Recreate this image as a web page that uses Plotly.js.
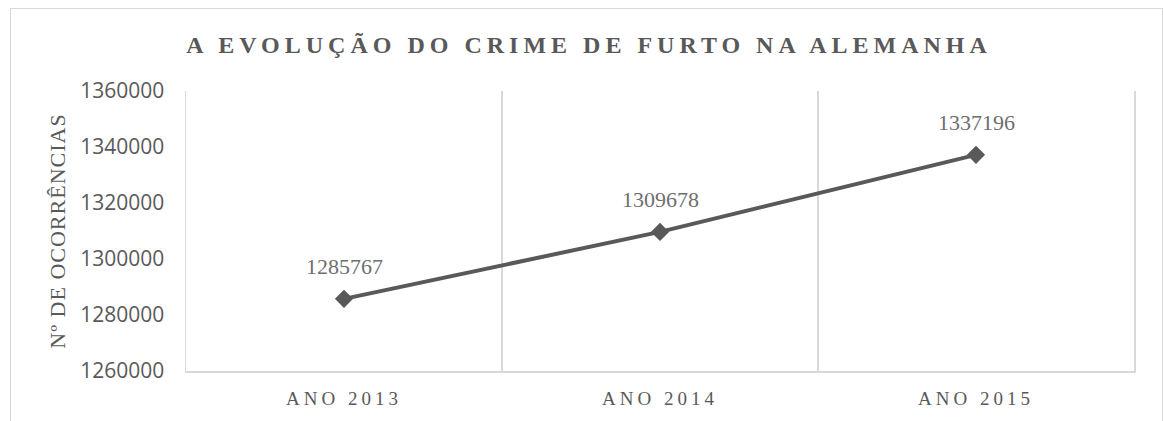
<!DOCTYPE html>
<html>
<head>
<meta charset="utf-8">
<script src="https://cdn.plot.ly/plotly-3.0.1.min.js"></script>
<style>
  html, body { margin: 0; padding: 0; background: #ffffff; }
  #wrap { position: relative; width: 1163px; height: 421px; overflow: hidden; }
  #chart { position: absolute; left: 0; top: 0; width: 1163px; height: 421px; }
  #frame { position: absolute; left: 10px; top: 8px; width: 1151px; height: 440px;
           border: 1px solid #d9d9d9; pointer-events: none; }
  .gtitle { letter-spacing: 5px; }
  .xtick text { letter-spacing: 4px; }
  .ytitle { letter-spacing: 1px; }
</style>
</head>
<body>
<div id="wrap">
  <div id="chart"></div>
  <div id="frame"></div>
</div>
<script>
const categories = ["ANO 2013", "ANO 2014", "ANO 2015"];
const occurrences = [1285767, 1309678, 1337196];
const chartTitle = "A EVOLUÇÃO DO CRIME DE FURTO NA ALEMANHA";
const yTitle = "Nº DE OCORRÊNCIAS";
const yTicks = [1260000, 1280000, 1300000, 1320000, 1340000, 1360000];

const grey = "#595959";

const trace = {
  x: categories,
  y: occurrences,
  type: "scatter",
  mode: "lines+markers",
  line: { color: grey, width: 4 },
  marker: { symbol: "diamond", size: 14, color: grey },
  hoverinfo: "skip",
  cliponaxis: false
};

const annotations = categories.map((c, i) => ({
  x: c,
  y: occurrences[i],
  xref: "x",
  yref: "y",
  text: String(occurrences[i]),
  showarrow: false,
  yshift: 32,
  font: { family: "Liberation Serif, Times New Roman, serif", size: 22, color: "#6e6e6e" }
}));

const layout = {
  width: 1163,
  height: 421,
  margin: { l: 186, r: 29, t: 91, b: 50 },
  paper_bgcolor: "rgba(0,0,0,0)",
  plot_bgcolor: "#ffffff",
  showlegend: false,
  title: {
    text: chartTitle,
    x: 589 / 1163,
    xref: "container",
    xanchor: "center",
    y: 1 - 45 / 421,
    yref: "container",
    yanchor: "middle",
    font: { family: "Liberation Serif, Times New Roman, serif", size: 24, color: grey, weight: "bold" }
  },
  xaxis: {
    type: "category",
    range: [-0.5, 2.5],
    tickson: "boundaries",
    showgrid: true,
    gridcolor: "#d9d9d9",
    gridwidth: 1.5,
    showline: true,
    linecolor: "#d9d9d9",
    linewidth: 2,
    ticks: "",
    ticklabelstandoff: 9,
    tickfont: { family: "Liberation Serif, Times New Roman, serif", size: 19, color: grey },
    fixedrange: true,
    zeroline: false
  },
  yaxis: {
    range: [1260000, 1360000],
    tickvals: yTicks,
    ticktext: yTicks.map(String),
    showgrid: false,
    zeroline: false,
    showline: true,
    mirror: true,
    linecolor: "#d9d9d9",
    linewidth: 1.5,
    ticks: "",
    ticklabelstandoff: 16,
    tickfont: { family: "Open Sans, Liberation Sans, sans-serif", size: 21, color: grey },
    title: {
      text: yTitle,
      standoff: 8,
      font: { family: "Liberation Serif, Times New Roman, serif", size: 22, color: grey }
    },
    fixedrange: true
  },
  annotations: annotations
};

Plotly.newPlot("chart", [trace], layout, { staticPlot: true, displayModeBar: false });
</script>
</body>
</html>
